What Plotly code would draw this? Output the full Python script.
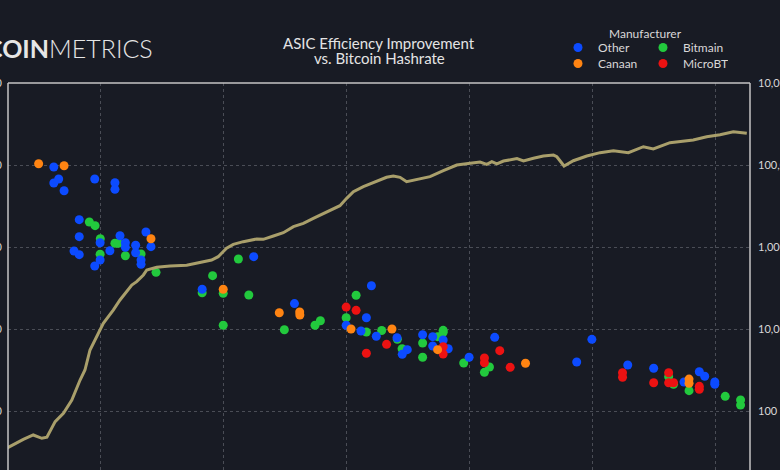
import plotly.graph_objects as go

# ---------------- data ----------------
hash_dates = ["2012-06-28","2012-10-02","2012-11-30","2013-01-20","2013-02-19","2013-04-09","2013-05-28","2013-07-17","2013-09-04","2013-10-03","2013-11-02","2013-12-12","2014-01-20","2014-03-20","2014-04-29","2014-07-08","2014-08-06","2014-09-15","2014-10-05","2014-12-03","2015-02-20","2015-05-30","2015-08-17","2015-10-25","2015-12-03","2016-01-22","2016-03-02","2016-04-30","2016-07-19","2016-08-27","2016-10-26","2016-12-24","2017-02-22","2017-04-22","2017-06-20","2017-08-19","2017-09-27","2017-11-25","2018-01-04","2018-02-13","2018-04-13","2018-07-01","2018-08-29","2018-10-08","2018-11-17","2018-12-26","2019-03-15","2019-05-14","2019-08-01","2019-10-20","2020-01-07","2020-03-06","2020-04-15","2020-05-15","2020-06-14","2020-07-23","2020-10-11","2020-11-19","2021-01-17","2021-03-17","2021-05-16","2021-06-05","2021-07-18","2021-09-11","2021-11-30","2022-02-17","2022-05-07","2022-08-04","2022-11-01","2022-12-30","2023-04-08","2023-08-24","2023-11-12","2024-01-30","2024-04-18","2024-07-07"]
hashrate_ths = [12.5, 20.4, 26, 21.6, 22.9, 55, 88, 185, 570, 1000, 3075, 6490, 13800, 29000, 51000, 118000, 143000, 208000, 275000, 320000, 344000, 358000, 414000, 482000, 580000, 930000, 1.16e6, 1.35e6, 1.57e6, 1.54e6, 1.85e6, 2.23e6, 3.13e6, 3.78e6, 5.0e6, 6.64e6, 7.98e6, 1.02e7, 1.54e7, 2.23e7, 2.96e7, 3.92e7, 5.01e7, 5.39e7, 5.01e7, 3.92e7, 4.56e7, 5.19e7, 7.26e7, 1.0e8, 1.10e8, 1.18e8, 1.04e8, 1.20e8, 1.06e8, 1.25e8, 1.43e8, 1.25e8, 1.46e8, 1.66e8, 1.75e8, 1.59e8, 9.46e7, 1.27e8, 1.66e8, 2.0e8, 2.23e8, 2.0e8, 2.79e8, 2.46e8, 3.50e8, 4.07e8, 4.90e8, 5.48e8, 6.49e8, 5.93e8]

other_dates = ["2013-04-01","2013-04-30","2013-04-01","2013-06-01","2013-11-30","2014-03-30","2014-03-30","2013-08-30","2013-08-30","2014-01-01","2014-04-29","2014-09-30","2014-05-31","2014-05-31","2014-07-31","2014-07-31","2014-10-30","2014-02-28","2013-07-30","2013-08-30","2014-01-01","2013-11-30","2014-09-01","2014-09-01","2015-08-30","2016-07-01","2017-02-28","2018-05-31","2018-05-01","2018-01-01","2018-03-30","2018-06-29","2018-10-30","2018-12-30","2018-11-30","2019-03-31","2019-05-30","2019-07-31","2019-05-30","2019-08-30","2020-01-01","2020-06-01","2021-12-30","2021-10-01","2022-07-31","2023-01-01","2023-06-30","2023-09-29","2023-10-31","2023-12-30","2023-12-30"]
other_eff = [9460, 6750, 6030, 4860, 6750, 6080, 5050, 2153, 1336, 1128, 1373, 1524, 1128, 991, 1049, 852, 1009, 901, 894, 806, 694, 586, 694, 615, 305, 762, 204, 337, 137, 111, 94.6, 81.5, 78.3, 56, 49.1, 85.2, 80.6, 73.4, 62, 57.5, 45.2, 79.2, 74.8, 39.6, 36.4, 33.2, 22.6, 30.1, 26.5, 22.6, 21.2]

bitmain_dates = ["2013-10-29","2013-12-02","2014-01-02","2014-01-01","2014-03-30","2014-04-19","2014-05-31","2014-09-01","2014-11-29","2015-10-31","2016-04-01","2015-08-30","2016-01-02","2016-06-02","2016-01-02","2016-12-30","2017-06-30","2017-08-01","2018-03-01","2018-01-01","2018-05-01","2018-07-31","2018-11-01","2018-11-29","2019-03-31","2019-03-31","2019-06-28","2019-07-31","2019-07-31","2019-11-30","2020-05-01","2020-04-01","2023-03-31","2023-04-29","2023-07-30","2024-03-01","2024-05-31","2024-05-31"]
bitmain_eff = [2018, 1820, 1262, 815, 1110, 1110, 783, 822, 491, 447, 714, 277, 272, 260, 111, 98, 111, 126, 258, 137, 92, 96, 75, 57.5, 67.5, 45.2, 80.6, 96.4, 91, 38.5, 34.4, 29.6, 26.2, 21.2, 17.7, 15.1, 13.6, 11.8]

canaan_dates = ["2013-01-01","2013-06-01","2014-10-30","2016-01-02","2016-11-30","2017-03-31","2017-04-01","2018-01-30","2018-09-30","2019-06-28","2020-12-01","2023-07-30","2023-07-30"]
canaan_eff = [10370, 9800, 1262, 305, 158, 161, 148, 100, 100, 56, 38.2, 24.5, 21.8]

microbt_dates = ["2018-01-01","2018-03-01","2018-05-01","2018-08-29","2019-07-31","2019-07-31","2020-04-01","2020-04-01","2020-07-01","2020-09-01","2022-06-30","2022-06-30","2023-01-01","2023-03-31","2023-03-31","2023-04-29","2023-09-29","2023-09-29"]
microbt_eff = [185, 169, 50.6, 65, 60.8, 49.5, 44.3, 38.8, 54.4, 34.1, 29.3, 25.8, 22.1, 29.3, 22.1, 22.1, 20.0, 18.4]

eff_ticks = [10, 100, 1000, 10000, 100000]
eff_ticktext = ["10", "100", "1,000", "10,000", "100,000"]
hash_ticks = [1e2, 1e4, 1e6, 1e8, 1e10]
hash_ticktext = ["100", "10,000", "1,000,000", "100,000,000", "10,000,000,000"]

# ---------------- style ----------------
BG = "#181b24"
GRID = "#4a4d56"
TXT = "#d8d8d8"
FONT = "Lato"

fig = go.Figure()
fig.add_trace(go.Scatter(x=hash_dates, y=hashrate_ths, yaxis="y2", mode="lines",
                         line=dict(color="#a99f6b", width=3), showlegend=False,
                         name="Hashrate"))

series = [
    ("Bitmain", bitmain_dates, bitmain_eff, "#22c93d", "legend", 2),
    ("Other", other_dates, other_eff, "#0c4bff", "legend", 1),
    ("MicroBT", microbt_dates, microbt_eff, "#ec1212", "legend2", 4),
    ("Canaan", canaan_dates, canaan_eff, "#ff8412", "legend2", 3),
]
for name, xs, ys, col, leg, rank in series:
    fig.add_trace(go.Scatter(x=xs, y=ys, mode="markers", name=name,
                             marker=dict(color=col, size=9, line=dict(width=0)),
                             legend=leg, legendrank=rank))

leg_common = dict(orientation="h", xref="container", yref="container",
                  xanchor="left", yanchor="top", entrywidth=40,
                  font=dict(family=FONT, size=12, color=TXT),
                  bgcolor="rgba(0,0,0,0)", borderwidth=0)

fig.update_layout(
    width=780, height=470,
    margin=dict(l=8, r=30, t=83, b=0, autoexpand=False),
    paper_bgcolor=BG, plot_bgcolor=BG,
    font=dict(family=FONT, color=TXT),
    legend=dict(x=558/780, y=1-33/470, **leg_common),
    legend2=dict(x=558/780, y=1-49/470, **leg_common),
    xaxis=dict(type="date", range=["2012-07-03", "2024-07-26"],
               tick0="2014-01-01", dtick="M24", showgrid=True,
               gridcolor=GRID, griddash="3px,3px", gridwidth=1,
               showticklabels=False, zeroline=False, showline=False,
               automargin=False),
    yaxis=dict(type="log", range=[0.2805, 5.0], tickvals=eff_ticks,
               ticktext=eff_ticktext, showgrid=False, zeroline=False,
               ticks="", tickfont=dict(family=FONT, size=11, color=TXT),
               ticklabelstandoff=5, automargin=False),
    yaxis2=dict(type="log", range=[0.561, 10.0], overlaying="y", side="right",
                tickvals=hash_ticks, ticktext=hash_ticktext, showgrid=True,
                gridcolor=GRID, griddash="3px,3px", gridwidth=1, zeroline=False,
                ticks="", tickfont=dict(family=FONT, size=11, color=TXT),
                ticklabelstandoff=7, automargin=False),
    shapes=[
        dict(type="line", xref="paper", yref="paper", x0=0, x1=0, y0=0, y1=1,
             line=dict(color="#c4c4c4", width=1.5), layer="above"),
        dict(type="line", xref="paper", yref="paper", x0=0, x1=1, y0=1, y1=1,
             line=dict(color="#c4c4c4", width=1.5), layer="above"),
        dict(type="line", xref="paper", yref="paper", x0=1, x1=1, y0=0, y1=1,
             line=dict(color="#c4c4c4", width=1.5), layer="above"),
    ],
    annotations=[
        dict(text="ASIC Efficiency Improvement", xref="paper", yref="paper",
             x=0.5, y=(470-43)/387, xanchor="center", yanchor="middle",
             showarrow=False, font=dict(family=FONT, size=15, color="#e4e4e4")),
        dict(text="vs. Bitcoin Hashrate", xref="paper", yref="paper",
             x=0.5, y=(470-58)/387, xanchor="center", yanchor="middle",
             showarrow=False, font=dict(family=FONT, size=15, color="#e4e4e4")),
        dict(text="Manufacturer", xref="paper", yref="paper",
             x=(645-8)/742, y=(470-34)/387, xanchor="center", yanchor="middle",
             showarrow=False, font=dict(family=FONT, size=12, color=TXT)),
        dict(text="<b>COIN</b>METRICS", xref="paper", yref="paper",
             x=(155-8)/742, y=(470-48)/387, xanchor="right", yanchor="middle",
             showarrow=False, font=dict(family=FONT, size=25, color="#e6e6e6", weight=300)),
    ],
)

fig.write_html("out.html",
               config={"displayModeBar": False},
               post_script="document.body.style.margin='0';document.body.style.background='%s';" % BG)
